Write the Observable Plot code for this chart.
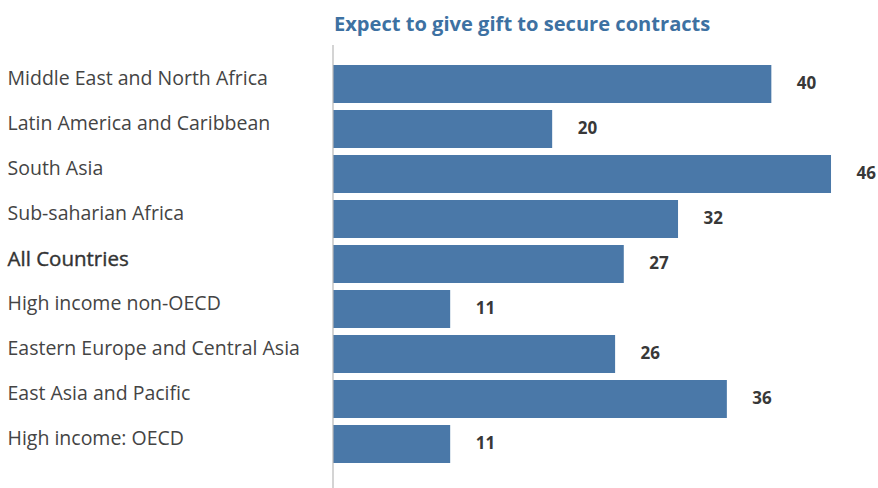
<!DOCTYPE html>
<html><head><meta charset="utf-8">
<script src="https://cdn.jsdelivr.net/npm/d3@7"></script>
<script src="https://cdn.jsdelivr.net/npm/@observablehq/plot@0.6"></script>
<style>
body{margin:0;background:#fff;}
#title{height:45px;box-sizing:border-box;padding-left:334px;padding-top:11px;font-family:"Open Sans",sans-serif;font-weight:700;font-size:20.1px;color:#3d71a2;line-height:26px;white-space:nowrap;}
</style></head>
<body>
<div id="title">Expect to give gift to secure contracts</div>
<div id="chart"></div>
<script>
const regions = ["Middle East and North Africa","Latin America and Caribbean","South Asia","Sub-saharian Africa","All Countries","High income non-OECD","Eastern Europe and Central Asia","East Asia and Pacific","High income: OECD"];
const values = [40.4, 20.2, 45.9, 31.8, 26.8, 10.8, 26.0, 36.3, 10.8];
const highlight = "All Countries";
const data = regions.map((r,i)=>({region:r, value:values[i]}));

const W = 878, H = 443, mt = 10.6, mb = 16.6, ml = 333;
const chart = Plot.plot({
  width: W, height: H,
  marginTop: mt, marginBottom: mb, marginLeft: ml, marginRight: 2.5,
  x: {domain:[0,50], axis:null},
  y: {domain: regions, padding: 0.1625, axis: null},
  style: {fontFamily: "'Open Sans', sans-serif", background: "#fff"},
  marks: [
    Plot.barX(data, {x: "value", y: "region", fill: "#4a78a8"}),
    Plot.ruleX([0], {stroke: "#b8b8b8", strokeWidth: 1.2, insetTop: -mt, insetBottom: -mb, dx: -0.5}),
    Plot.text(data.filter(d=>d.region!==highlight), {x: 0, y: "region", text: "region", textAnchor: "start", dx: -326, dy: -5.5, fontSize: 19.5, fill: "#444"}),
    Plot.text(data.filter(d=>d.region===highlight), {x: 0, y: "region", text: "region", textAnchor: "start", dx: -326, dy: -5, fontSize: 20.5, fill: "#333", stroke: "#333", strokeWidth: 0.4}),
    Plot.text(data, {x: "value", y: "region", text: d=>d3.format(".0f")(d.value), textAnchor: "start", dx: 25, dy: -1, fontSize: 17, fontWeight: 700, fill: "#383838"})
  ]
});
document.getElementById("chart").appendChild(chart);
</script>
</body></html>
